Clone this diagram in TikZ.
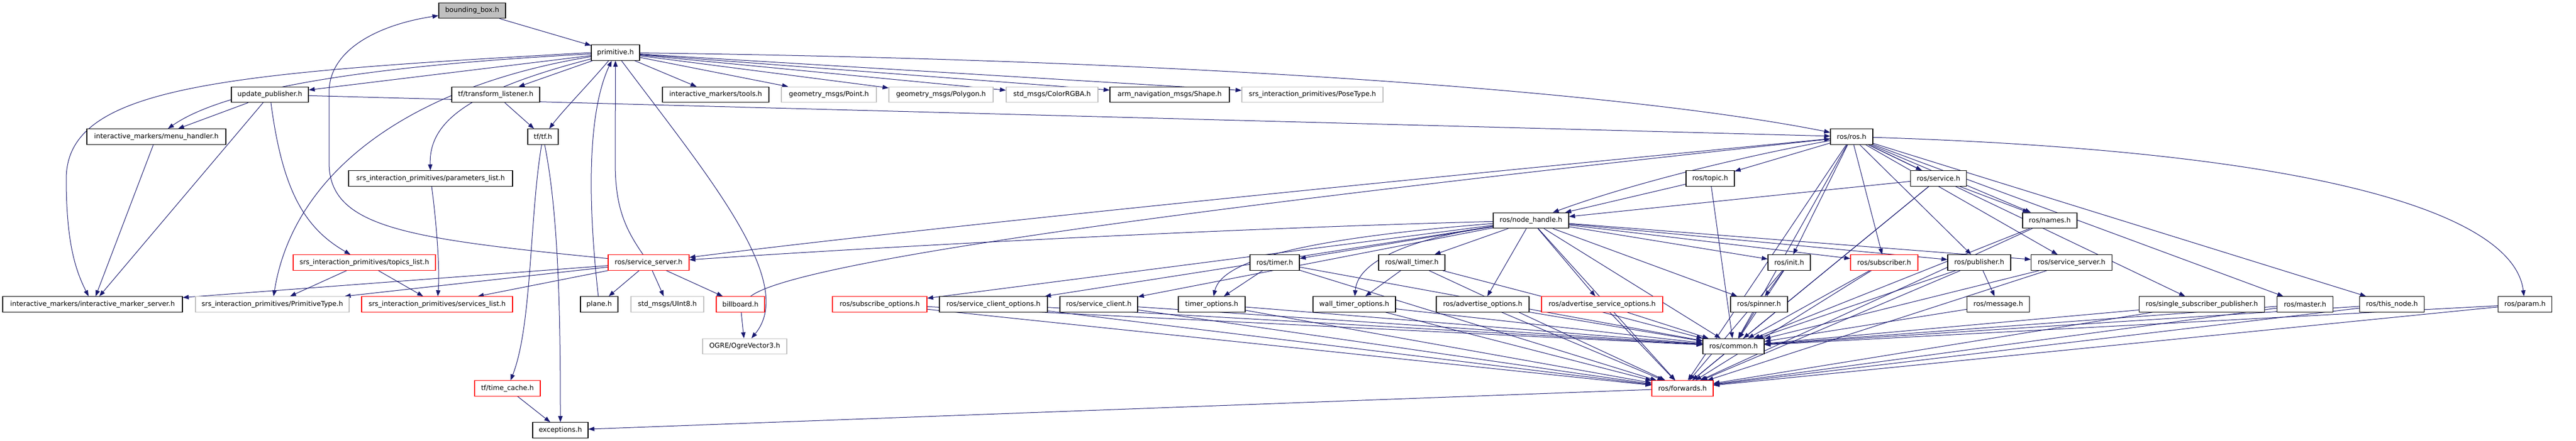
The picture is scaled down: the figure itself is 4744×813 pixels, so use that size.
\documentclass[tikz,border=0pt]{standalone}
\usepackage{fontspec}
\setmainfont{DejaVu Sans}
\usetikzlibrary{arrows.meta}
\pgfdeclarelayer{back}
\pgfdeclarelayer{edges}
\pgfsetlayers{back,edges,main}
\definecolor{edgec}{HTML}{191970}
\definecolor{redb}{HTML}{FF0000}
\definecolor{grayb}{HTML}{BFBFBF}
\tikzset{
  nb/.style={draw=black, line width=1.1pt, minimum height=28.5pt, inner sep=0pt, fill=white, font=\fontsize{12.5}{15}\selectfont},
  nr/.style={nb, draw=redb},
  ng/.style={nb, draw=grayb},
  e/.style={draw=edgec, line width=1pt, -{Triangle[length=11pt,width=8pt]}},
}
\begin{document}
\begin{tikzpicture}[x=1pt,y=-1pt]
\begin{pgfonlayer}{back}
\path[use as bounding box, fill=white] (0,0) rectangle (4744,813);
\end{pgfonlayer}
% rank 0
\node[nb, fill=grayb, minimum width=123] (bb) at (869.5,19.5) {bounding\_box.h};
% rank 1
\node[nb, minimum width=89] (prim) at (1133.5,97) {primitive.h};
% rank 2
\node[nb, minimum width=142] (upd) at (497,174.5) {update\_publisher.h};
\node[nb, minimum width=162] (tfl) at (913,174.5) {tf/transform\_listener.h};
\node[nb, minimum width=196] (imt) at (1318,174.5) {interactive\_markers/tools.h};
\node[ng, minimum width=175] (gpt) at (1526.5,174.5) {geometry\_msgs/Point.h};
\node[ng, minimum width=192] (gpoly) at (1733,174.5) {geometry\_msgs/Polygon.h};
\node[ng, minimum width=169] (crgba) at (1937.5,174.5) {std\_msgs/ColorRGBA.h};
\node[nb, minimum width=220] (shape) at (2154,174.5) {arm\_navigation\_msgs/Shape.h};
\node[ng, minimum width=260] (pose) at (2417,174.5) {srs\_interaction\_primitives/PoseType.h};
% rank 3
\node[nb, minimum width=256] (menu) at (288,252) {interactive\_markers/menu\_handler.h};
\node[nb, minimum width=56] (tf) at (1000,252) {tf/tf.h};
\node[nb, minimum width=78] (ros) at (3410,252) {ros/ros.h};
% rank 4
\node[nb, minimum width=302] (params) at (793,329) {srs\_interaction\_primitives/parameters\_list.h};
\node[nb, minimum width=89] (topic) at (3149.5,329) {ros/topic.h};
\node[nb, minimum width=103] (service) at (3570,329) {ros/service.h};
% rank 5
\node[nb, minimum width=139] (nh) at (2819.5,406.5) {ros/node\_handle.h};
\node[nb, minimum width=100] (names) at (3775,406.5) {ros/names.h};
% rank 6
\node[nr, minimum width=262] (topics) at (671,484) {srs\_interaction\_primitives/topics\_list.h};
\node[nr, minimum width=149] (ssred) at (1194.5,484) {ros/service\_server.h};
\node[nb, minimum width=91] (timer) at (2347.5,484) {ros/timer.h};
\node[nb, minimum width=122] (wtimer) at (2600,484) {ros/wall\_timer.h};
\node[nb, minimum width=78] (init) at (3295,484) {ros/init.h};
\node[nr, minimum width=124] (sub) at (3470,484) {ros/subscriber.h};
\node[nb, minimum width=116] (pub) at (3645,484) {ros/publisher.h};
\node[nb, minimum width=149] (ssblk) at (3815,484) {ros/service\_server.h};
% rank 7
\node[nb, minimum width=331] (ims) at (170.5,561) {interactive\_markers/interactive\_marker\_server.h};
\node[ng, minimum width=283] (ptype) at (501.5,561) {srs\_interaction\_primitives/PrimitiveType.h};
\node[nr, minimum width=278] (slist) at (805,561) {srs\_interaction\_primitives/services\_list.h};
\node[nb, minimum width=69] (plane) at (1103.5,561) {plane.h};
\node[ng, minimum width=134] (uint8) at (1229,561) {std\_msgs/UInt8.h};
\node[nr, minimum width=89] (bill) at (1363.5,561) {billboard.h};
\node[nr, minimum width=174] (subopt) at (1620,561) {ros/subscribe\_options.h};
\node[nb, minimum width=199] (scopt) at (1829.5,561) {ros/service\_client\_options.h};
\node[nb, minimum width=143] (sclient) at (2023.5,561) {ros/service\_client.h};
\node[nb, minimum width=123] (topt) at (2231.5,561) {timer\_options.h};
\node[nb, minimum width=152] (wtopt) at (2494,561) {wall\_timer\_options.h};
\node[nb, minimum width=171] (advopt) at (2730.5,561) {ros/advertise\_options.h};
\node[nr, minimum width=223] (advsopt) at (2950.5,561) {ros/advertise\_service\_options.h};
\node[nb, minimum width=105] (spinner) at (3239.5,561) {ros/spinner.h};
\node[nb, minimum width=115] (message) at (3680,561) {ros/message.h};
\node[nb, minimum width=231] (ssp) at (4055,561) {ros/single\_subscriber\_publisher.h};
\node[nb, minimum width=103] (master) at (4245,561) {ros/master.h};
\node[nb, minimum width=119] (thisnode) at (4405,561) {ros/this\_node.h};
\node[nb, minimum width=99] (param) at (4650,561) {ros/param.h};
% rank 8
\node[ng, minimum width=155] (ogre) at (1371.5,638.5) {OGRE/OgreVector3.h};
\node[nb, minimum width=113] (common) at (3192.5,638.5) {ros/common.h};
% rank 9
\node[nr, minimum width=121] (tcache) at (934.5,716) {tf/time\_cache.h};
\node[nr, minimum width=113] (fwd) at (3098.5,716) {ros/forwards.h};
% rank 10
\node[nb, minimum width=102] (exc) at (1032,793) {exceptions.h};

\begin{pgfonlayer}{edges}
% ---- edges: left part
\draw[e] (bb) -- (prim);
\draw[e] (ssred) .. controls (750,440) and (606,420) .. (606,300) -- (606,170) .. controls (606,90) and (700,45) .. (bb);
\draw[e] (ssred) .. controls (1150,420) and (1133,380) .. (1133,300) -- (prim);
\draw[e] (plane) .. controls (1080,350) and (1085,200) .. (prim);
\draw[e] (prim) -- (upd);
\draw[e] (prim) .. controls (700,120) and (420,160) .. (menu);
\draw[e] (prim.west) .. controls (400,135) and (122,160) .. (122,330) .. controls (122,450) and (140,500) .. (ims);
\draw[e] (prim) .. controls (750,160) and (540,320) .. (ptype);
\draw[e] (prim) .. controls (850,170) and (790,230) .. (params);
\draw[e] (prim) -- (tfl);
\draw[e] (prim) .. controls (1080,160) and (1040,200) .. (tf);
\draw[e] (prim) -- (imt);
\draw[e] (prim) -- (gpt);
\draw[e] (prim) -- (gpoly);
\draw[e] (prim) -- (crgba);
\draw[e] (prim) -- (shape);
\draw[e] (prim) -- (pose);
\draw[e] (prim) .. controls (1300,320) and (1470,520) .. (ogre);
\draw[e] (prim) .. controls (2200,110) and (3000,170) .. (ros);
\draw[e] (upd) -- (menu);
\draw[e] (upd) -- (ims);
\draw[e] (upd) .. controls (520,350) and (560,420) .. (topics);
\draw[e] (upd) -- (ros);
\draw[e] (menu) -- (ims);
\draw[e] (topics) -- (ptype);
\draw[e] (topics) -- (slist);
\draw[e] (params) .. controls (805,420) and (810,500) .. (slist);
\draw[e] (tfl) -- (tf);
\draw[e] (tf) .. controls (975,400) and (980,600) .. (tcache);
\draw[e] (tf) .. controls (1030,400) and (1032,600) .. (exc);
\draw[e] (tcache) -- (exc);
\draw[e] (ssred) -- (plane);
\draw[e] (ssred) -- (uint8);
\draw[e] (ssred) -- (bill);
\draw[e] (ssred) -- (ims);
\draw[e] (ssred) -- (ptype);
\draw[e] (ssred) -- (slist);
\draw[e] (bill) -- (ogre);
\draw[e] (bill) .. controls (1480,470) and (2500,350) .. (ros);
\draw[e] (ros) .. controls (2600,330) and (1700,420) .. (ssred);
\draw[e] (nh) .. controls (2300,420) and (1700,450) .. (ssred);
\draw[e] (fwd) -- (exc);

% ---- edges: ros part
\draw[e] (ros) -- (topic);
\draw[e] (ros) .. controls (3200,290) and (3000,340) .. (nh);
\draw[e] (ros) -- (service);
\draw[e] (ros) -- (names);
\draw[e] (ros) -- (init);
\draw[e] (ros) -- (sub);
\draw[e] (ros) -- (pub);
\draw[e] (ros) -- (ssblk);
\draw[e] (ros) -- (ssp);
\draw[e] (ros) -- (master);
\draw[e] (ros) -- (thisnode);
\draw[e] (ros) .. controls (4300,280) and (4630,400) .. (param);
\draw[e] (ros) -- (common);
\draw[e] (ros) -- (fwd);
\draw[e] (topic) -- (nh);
\draw[e] (topic) -- (common);
\draw[e] (service) -- (nh);
\draw[e] (service) -- (names);
\draw[e] (service) -- (common);
\draw[e] (service) -- (fwd);
\draw[e] (nh) -- (subopt);
\draw[e] (nh) -- (scopt);
\draw[e] (nh) -- (sclient);
\draw[e] (nh) -- (timer);
\draw[e] (nh) .. controls (2400,440) and (2250,480) .. (topt);
\draw[e] (nh) -- (wtimer);
\draw[e] (nh) .. controls (2600,440) and (2500,480) .. (wtopt);
\draw[e] (nh) -- (advopt);
\draw[e] (nh) -- (advsopt);
\draw[e] (nh) -- (common);
\draw[e] (nh) -- (fwd);
\draw[e] (nh) -- (init);
\draw[e] (nh) -- (sub);
\draw[e] (nh) -- (pub);
\draw[e] (nh) -- (ssblk);
\draw[e] (nh) -- (spinner);
\draw[e] (timer) -- (topt);
\draw[e] (timer) -- (common);
\draw[e] (timer) -- (fwd);
\draw[e] (wtimer) -- (wtopt);
\draw[e] (wtimer) -- (common);
\draw[e] (wtimer) -- (fwd);
\foreach \n in {subopt,scopt,sclient,topt,wtopt,advopt,advsopt} {
  \draw[e] (\n) -- (common);
  \draw[e] (\n) -- (fwd);
}
\draw[e] (common) -- (fwd);
\draw[e] (init) -- (spinner);
\draw[e] (init) -- (common);
\draw[e] (init) -- (fwd);
\draw[e] (spinner) -- (common);
\draw[e] (sub) -- (common);
\draw[e] (sub) -- (fwd);
\draw[e] (pub) -- (message);
\draw[e] (pub) -- (common);
\draw[e] (pub) -- (fwd);
\draw[e] (message) -- (common);
\foreach \n in {ssblk,ssp,master,thisnode,param,names} {
  \draw[e] (\n) -- (common);
  \draw[e] (\n) -- (fwd);
}
\end{pgfonlayer}
\end{tikzpicture}
\end{document}
